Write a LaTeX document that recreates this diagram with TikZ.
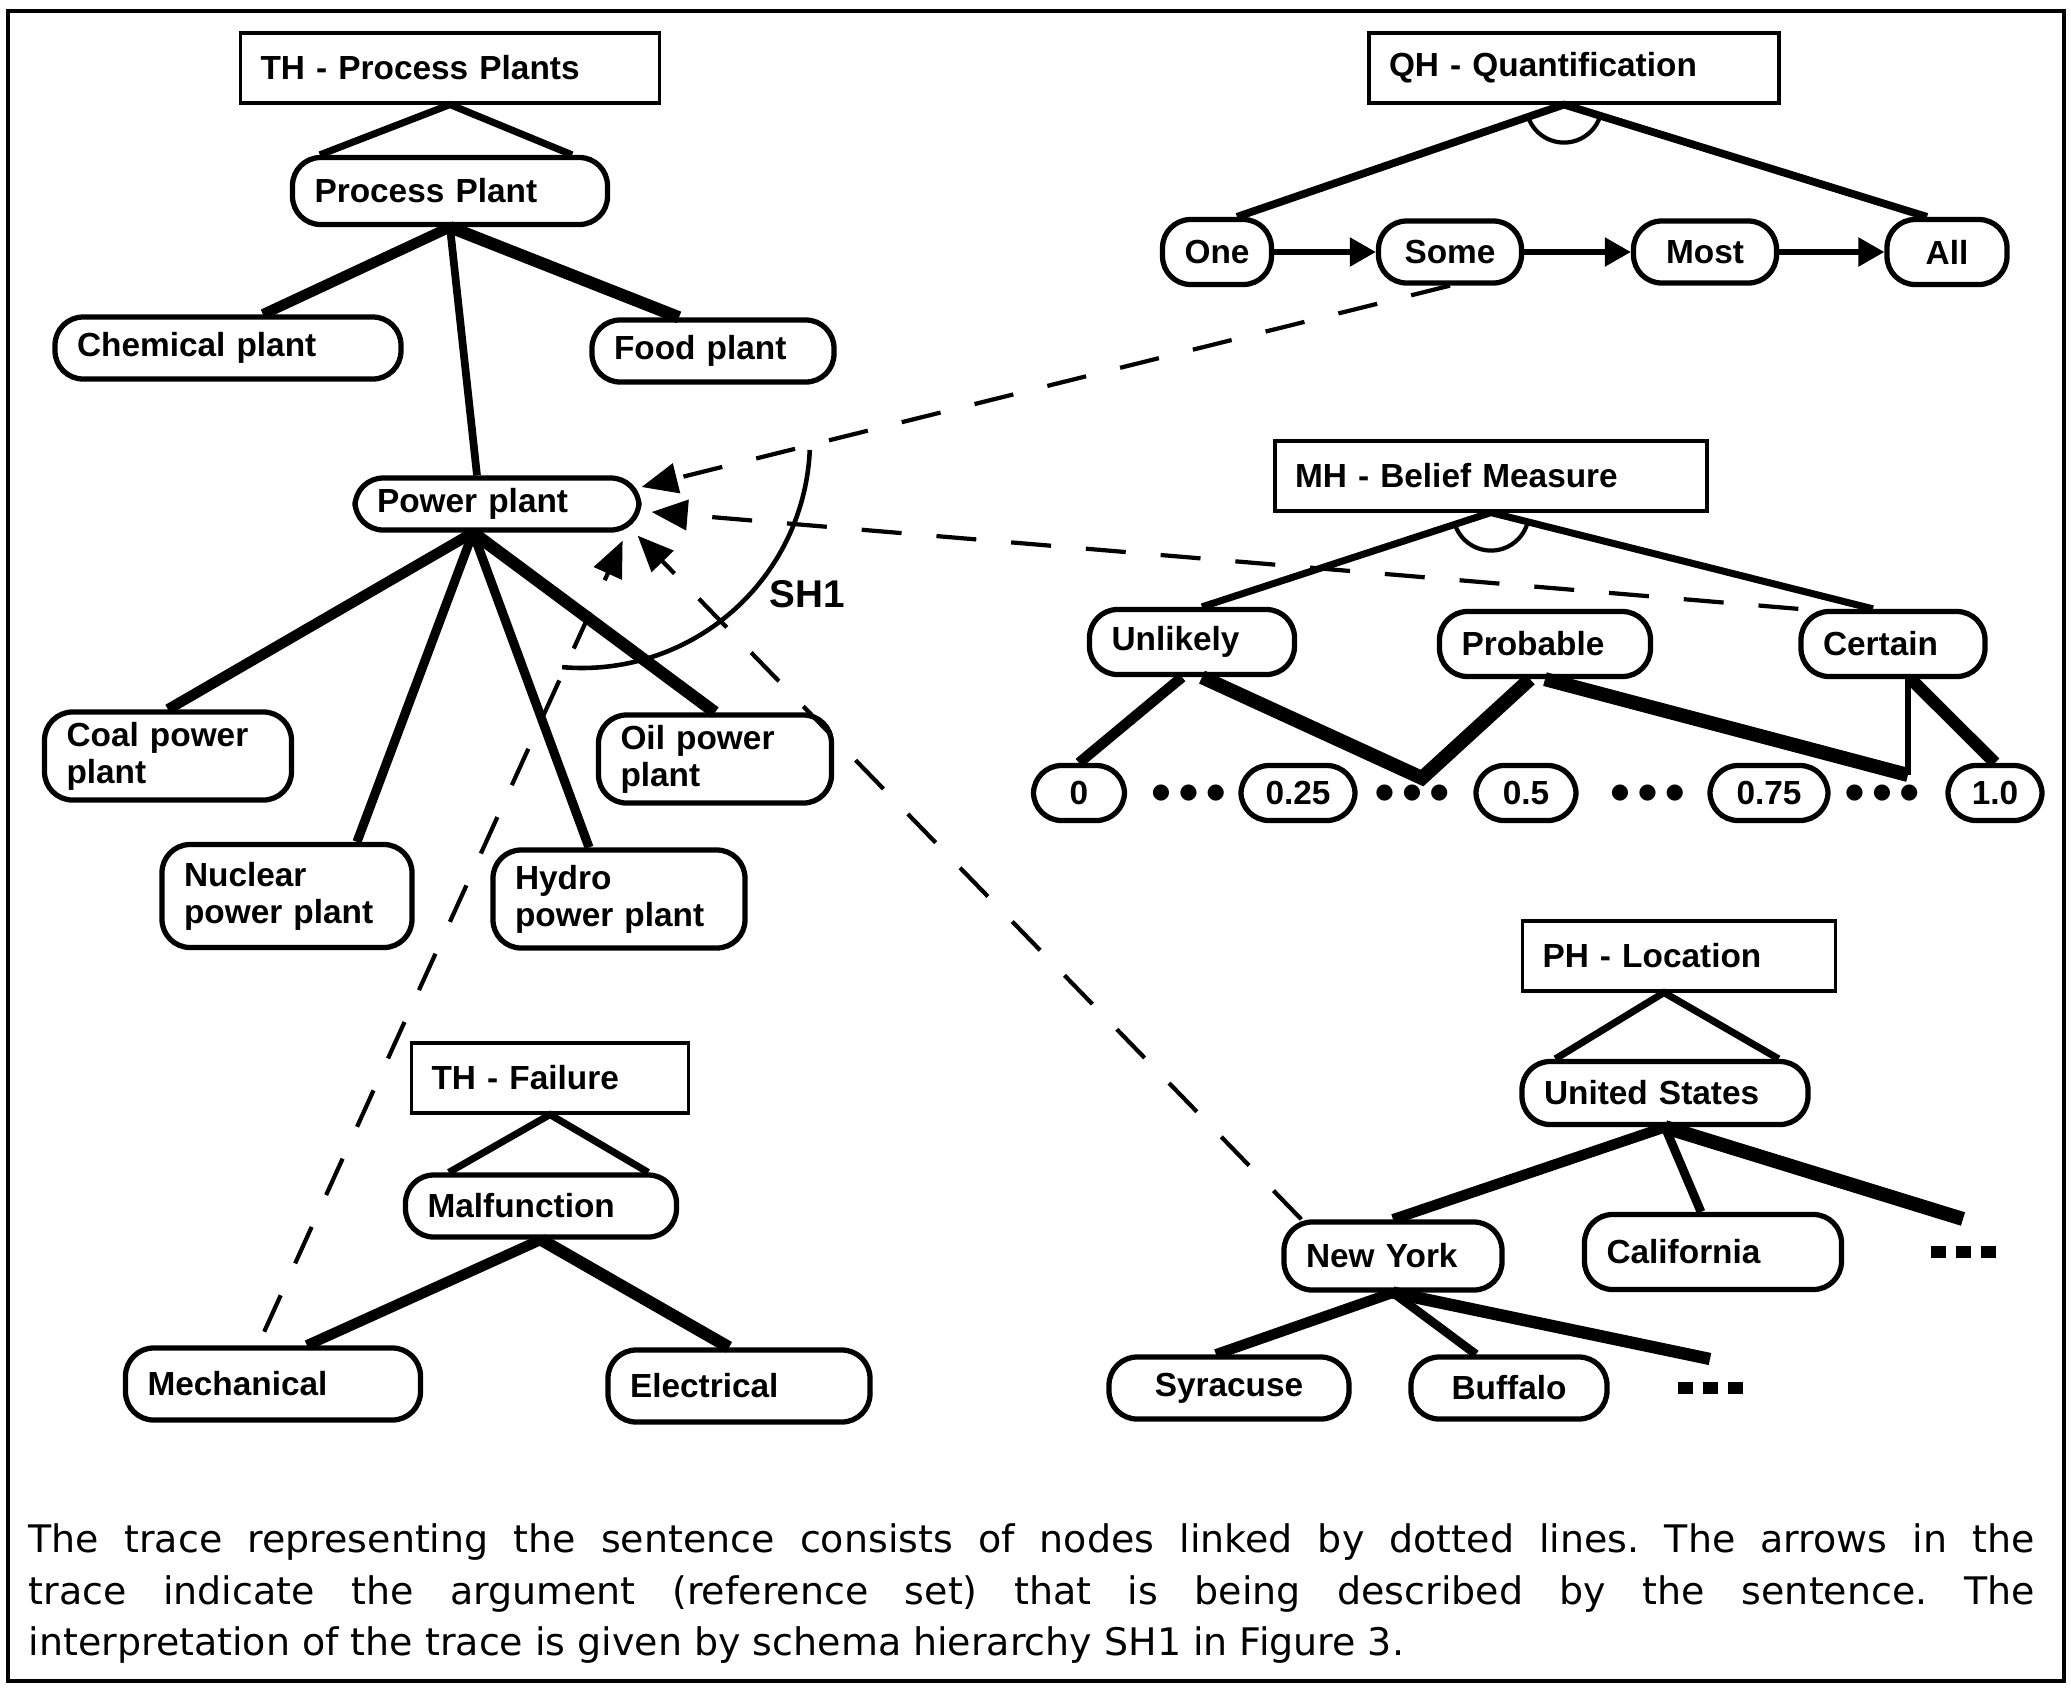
\documentclass[tikz,border=0pt]{standalone}
\usepackage{fontspec}
\setmainfont{Liberation Sans}
\newfontfamily\dejavu{DejaVu Sans}
\usepackage{tikz}
\usetikzlibrary{arrows.meta, positioning, calc}
\frenchspacing

\newcommand{\rdots}{{\dejavu\fontsize{6}{6}\selectfont ●\hspace{0.9mm}●\hspace{0.9mm}●}}
\newcommand{\sqdots}{\rule{1.5mm}{1.2mm}\hspace{1mm}\rule{1.5mm}{1.2mm}\hspace{1mm}\rule{1.5mm}{1.2mm}}

\begin{document}
\begin{tikzpicture}[
		hier/.style={draw, line width=0.9pt, inner xsep=2mm, minimum height=0.7cm, align=left, font=\fontsize{9.5}{10}\selectfont\bfseries},
		cnode/.style={draw, line width=1.5pt, rounded corners=8pt, inner xsep=2.2mm, inner ysep=1mm, minimum height=0.62cm, align=left, font=\fontsize{9.5}{10.5}\selectfont\bfseries},
		branch/.style={line width=#1},
		branch/.default=3pt,
		seq/.style={-{Triangle[length=2.6mm, width=2.8mm]}, line width=1.5pt},
		tracearrow/.style={-{Triangle[length=3.6mm, width=3mm]}, line width=1.2pt, dash pattern=on 4mm off 3.5mm},
		dotrow/.style={inner sep=0},
		on grid
		]
		\useasboundingbox (0,0) rectangle (20.71,-16.88);
		\draw[line width=1.2pt] (0.08,-0.11) rectangle (20.64,-16.81);

		% process plants
		\node[hier, text width=3.79cm] (tpp) at (4.50,-0.68) {TH - Process Plants};
		\node[cnode, text width=2.71cm, minimum height=0.67cm, below=1.23 of tpp] (procplant) {Process Plant};
		\node[cnode, text width=3.02cm, below left=1.57 and 2.22 of procplant] (chem) {Chemical plant};
		\node[cnode, text width=1.98cm, below right=1.60 and 2.63 of procplant] (food) {Food plant};
		\node[cnode, text width=2.40cm, minimum height=0.52cm, below right=3.13 and 0.47 of procplant] (power) {Power plant};
		\node[cnode, text width=2.03cm, minimum height=0.85cm, below left=2.52 and 3.29 of power] (coal) {Coal power\\plant};
		\node[cnode, text width=2.06cm, minimum height=1.03cm, below left=3.92 and 2.10 of power] (nuclear) {Nuclear\\power plant};
		\node[cnode, text width=2.08cm, minimum height=0.98cm, below right=3.95 and 1.22 of power] (hydro) {Hydro\\power plant};
		\node[cnode, text width=1.89cm, minimum height=0.88cm, below right=2.55 and 2.18 of power] (oil) {Oil power\\plant};

		\draw[branch=2pt] ([xshift=3mm]procplant.north west) -- (tpp.south) -- ([xshift=-3.8mm]procplant.north east);
		\draw[branch] (procplant.south) -- ([xshift=3.5mm]chem.north);
		\draw[branch=3.5pt] (procplant.south) -- ([xshift=-3.4mm]food.north);
		\draw[branch=2.2pt] (procplant.south) -- ([xshift=-2mm]power.north);
		\draw[branch] ([xshift=-2.4mm]power.south) -- (coal.north);
		\draw[branch=2.6pt] ([xshift=-2.4mm]power.south) -- ([xshift=7mm]nuclear.north);
		\draw[branch=2.6pt] ([xshift=-2.4mm]power.south) -- ([xshift=-3mm]hydro.north);
		\draw[branch=3.5pt] ([xshift=-2.4mm]power.south) -- (oil.north);

		% failure
		\node[hier, text width=2.37cm] (tfail) at (5.50,-10.78) {TH - Failure};
		\node[cnode, text width=2.27cm, below left=1.28 and 0.09 of tfail] (malf) {Malfunction};
		\node[cnode, text width=2.51cm, minimum height=0.72cm, below left=1.78 and 2.68 of malf] (mech) {Mechanical};
		\node[cnode, text width=2.18cm, minimum height=0.72cm, below right=1.80 and 1.98 of malf] (elec) {Electrical};

		\draw[branch=2pt] ([xshift=4.6mm]malf.north west) -- (tfail.south) -- ([xshift=-3.1mm]malf.north east);
		\draw[branch] (malf.south) -- ([xshift=3.4mm]mech.north);
		\draw[branch=3.5pt] (malf.south) -- ([xshift=-1mm]elec.north);

		% quantification
		\node[hier, text width=3.70cm] (tqh) at (15.74,-0.68) {QH - Quantification};
		\node[cnode, align=center, minimum width=1.07cm, minimum height=0.65cm, below left=1.84 and 3.57 of tqh] (one) {One};
		\node[cnode, align=center, minimum width=1.43cm, minimum height=0.62cm, right=2.33 of one] (some) {Some};
		\node[cnode, align=center, minimum width=1.43cm, minimum height=0.62cm, right=2.55 of some] (most) {Most};
		\node[cnode, align=center, minimum width=1.20cm, minimum height=0.65cm, right=2.42 of most] (all) {All};

		\draw[branch=2.2pt] ([xshift=2mm]one.north) -- ([xshift=-1mm]tqh.south) -- ([xshift=-2mm]all.north);
		\draw[line width=1.2pt] ([shift={(199:0.38)}, xshift=-1mm]tqh.south) arc[start angle=199, end angle=343, radius=0.38];
		\draw[seq] (one) -- (some);
		\draw[seq] (some) -- (most);
		\draw[seq] (most) -- (all);

		% belief measure
		\node[hier, text width=3.92cm] (tmh) at (14.91,-4.76) {MH - Belief Measure};
		\node[cnode, text width=1.61cm, minimum height=0.65cm, below left=1.66 and 2.99 of tmh] (unlikely) {Unlikely};
		\node[cnode, text width=1.67cm, minimum height=0.65cm, below right=1.68 and 0.54 of tmh] (probable) {Probable};
		\node[cnode, text width=1.40cm, minimum height=0.65cm, below right=1.68 and 4.02 of tmh] (certain) {Certain};
		\node[cnode, align=center, minimum width=0.91cm, minimum height=0.55cm, below left=1.51 and 1.13 of unlikely] (v0) {0};
		\node[cnode, align=center, minimum width=1.14cm, minimum height=0.55cm, right=2.19 of v0] (v25) {0.25};
		\node[cnode, align=center, minimum width=1.00cm, minimum height=0.55cm, right=2.28 of v25] (v50) {0.5};
		\node[cnode, align=center, minimum width=1.18cm, minimum height=0.55cm, right=2.43 of v50] (v75) {0.75};
		\node[cnode, align=center, minimum width=0.94cm, minimum height=0.55cm, right=2.26 of v75] (v100) {1.0};
		\node[dotrow] (d1) at ($(v0)!0.5!(v25)$) {\rdots};
		\node[dotrow] (d2) at ($(v25)!0.5!(v50)$) {\rdots};
		\node[dotrow] (d3) at ($(v50)!0.5!(v75)$) {\rdots};
		\node[dotrow] (d4) at ($(v75)!0.5!(v100)$) {\rdots};
		\coordinate[above right=0.15 and 0.10 of d2] (vlow);
		\coordinate[above right=0.18 and 0.26 of d4] (vhigh);

		\draw[branch=2pt] ([xshift=1mm]unlikely.north) -- (tmh.south) -- ([xshift=-2mm]certain.north);
		\draw[line width=1.2pt] ([shift={(199:0.38)}]tmh.south) arc[start angle=199, end angle=345, radius=0.38];
		\draw[branch] ([xshift=-1mm]unlikely.south) -- (v0.north);
		\draw[branch=4pt] ([xshift=1mm]unlikely.south) -- (vlow) -- ([xshift=-1.5mm]probable.south);
		\draw[branch=4pt] (probable.south) -- (vhigh);
		\draw[branch=1.5pt] (vhigh) -- (vhigh |- certain.south);
		\draw[branch=3.5pt] ([xshift=1.8mm]certain.south) -- (v100.north);

		% location
		\node[hier, text width=2.73cm] (tph) at (16.79,-9.56) {PH - Location};
		\node[cnode, text width=2.42cm, minimum height=0.63cm, below left=1.37 and 0.14 of tph] (us) {United States};
		\node[cnode, text width=1.74cm, minimum height=0.68cm, below left=1.63 and 2.72 of us] (ny) {New York};
		\node[cnode, text width=2.13cm, minimum height=0.75cm, below right=1.59 and 0.48 of us] (cal) {California};
		\node[dotrow, right=2.50 of cal] (usdots) {\sqdots};
		\node[cnode, align=center, text width=1.96cm, minimum height=0.62cm, below left=1.32 and 1.64 of ny] (syr) {Syracuse};
		\node[cnode, align=center, text width=1.52cm, minimum height=0.62cm, below right=1.32 and 1.16 of ny] (buf) {Buffalo};
		\node[dotrow, right=2.01 of buf] (nydots) {\sqdots};
		\coordinate[above=0.33 of usdots] (usend);
		\coordinate[above=0.29 of nydots] (nyend);

		\draw[branch=2pt] ([xshift=3.6mm]us.north west) -- ([xshift=-1.5mm]tph.south) -- ([xshift=-3.2mm]us.north east);
		\draw[branch] (us.south) -- (ny.north);
		\draw[branch=2.5pt] (us.south) -- ([xshift=-1.2mm]cal.north);
		\draw[branch=4pt] (us.south) -- (usend);
		\draw[branch] (ny.south) -- ([xshift=-1.3mm]syr.north);
		\draw[branch=2.5pt] (ny.south) -- ([xshift=-3.3mm]buf.north);
		\draw[branch=3.5pt] (ny.south) -- (nyend);

		% trace
		\draw[tracearrow] (some.south) -- ([yshift=1.7mm]power.east);
		\draw[tracearrow] (certain.north west) -- ([xshift=1mm,yshift=-0.8mm]power.east);
		\draw[tracearrow] ([xshift=2mm]ny.north west) -- ([xshift=-0.4mm,yshift=-0.3mm]power.south east);
		\draw[tracearrow, shorten <=1.5mm] ([xshift=-1.5mm]mech.north) -- ([xshift=-1.9mm,yshift=-0.8mm]power.south east);
		\draw[line width=1.3pt] ([shift={(0.85,0.64)}]power.center) ++(-2.5:2.28) arc[start angle=-2.5, end angle=-95, radius=2.28];
		\node[font=\fontsize{11}{12}\selectfont\bfseries] (sh1) at (8.07,-5.94) {SH1};

		\node[anchor=north west, inner sep=0, text width=20.06cm, align=justify, font=\dejavu\fontsize{10.8}{14.7}\selectfont] (caption) at (0.28,-15.23) {The trace representing the sentence consists of nodes linked by dotted lines. The arrows in the\linebreak trace indicate the argument (reference set) that is being described by the sentence. The\linebreak interpretation of the trace is given by schema hierarchy SH1 in Figure 3.};
	\end{tikzpicture}
\end{document}
